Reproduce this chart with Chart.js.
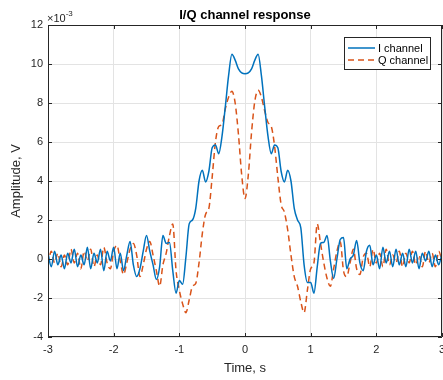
<!DOCTYPE html>
<html>
<head>
<meta charset="utf-8">
<script src="https://cdn.jsdelivr.net/npm/chart.js@4.4.1/dist/chart.umd.min.js"></script>
<style>
  html, body { margin: 0; padding: 0; background: #ffffff; }
  #wrap { width: 443px; height: 380px; }
</style>
</head>
<body>
<div id="wrap"><canvas id="c" width="443" height="380"></canvas></div>
<script>
// Sampling grid: -3 s .. 3 s every 0.05 s (121 samples)
const tStart = -3;
const tStep = 0.05;

// I channel amplitude, units of 1e-3 V
const iChannel = [
  0.3, -0.4, 0.4, -0.3, 0.2, -0.5, 0.3, -0.2, 0.5, -0.4,
  0.2, -0.3, 0.6, -0.5, 0.3, -0.2, 0.5, -0.6, 0.4, -0.1,
  0.6, -0.5, 0.3, -0.6, 0.2, 0.9, -0.3, -0.9,
  -0.5, 0.4, 1.2, 0.4, -0.3, -1.05, -0.4, 1.2, 0.8, 0.85,
  -0.6, -1.75, -1.1, -1.3, 0.1, 1.8,
  2.0, 2.6, 4.0, 4.55, 3.95, 4.5, 5.7, 5.85, 5.4, 6.3,
  7.8, 9.4, 10.5, 10.2, 9.75, 9.55, 9.5, 9.55, 9.75, 10.2,
  10.5, 9.4, 7.8, 6.3, 5.4, 5.85, 5.7, 4.5, 3.95, 4.55,
  4.0, 2.6, 2.0,
  1.6, -0.3, -1.2, -1.2, -1.75, -0.4, 0.8, 0.85, 1.2, -0.1,
  -1.0, 0.0, 1.0, 1.1, -0.5, 0.0,
  0.2, 0.95, -0.2, -0.6, 0.4, 0.7, -0.3, 0.2, -0.5, 0.6,
  -0.2, 0.4, -0.4, 0.5, -0.3, 0.3, -0.4, 0.5, -0.2, 0.4,
  -0.5, 0.3, -0.1, 0.4, -0.4, 0.2, -0.3, 0.3
];

// Q channel amplitude, units of 1e-3 V
const qChannel = [
  -0.3, 0.4, -0.2, 0.3, -0.4, 0.2, -0.3, 0.5, -0.2, 0.3,
  -0.5, 0.4, -0.1, 0.5, -0.4, 0.2, -0.3, 0.6, -0.2, -0.5,
  0.4, 0.7, -0.1, -0.8, -0.2, 0.5, 0.8, 0.2,
  -0.9, -0.3, 0.5, 0.9, 0.2, -0.6, -1.4, -0.3, 0.3, 1.2,
  1.8, -0.6, -1.6, -2.3, -2.75, -2.1,
  -1.4, -1.25, -0.2, 1.3, 2.3, 2.6, 4.2, 6.0, 6.8, 6.9,
  7.7, 8.3, 8.6, 8.0, 6.4, 4.3, 3.1, 4.3, 6.5, 8.1,
  8.65, 8.3, 7.6, 7.0, 6.8, 5.8, 4.2, 2.8, 2.4, 1.5,
  0.2, -0.9, -1.4,
  -2.2, -2.75, -1.6, -0.5, -0.2, 1.8, 0.8, -0.2, -1.0, -1.4,
  -0.5, 0.4, 0.9, -0.6, -0.9, -0.2,
  0.5, -0.5, -0.8, 0.1, 0.3, -0.4, 0.5, -0.2, 0.3, -0.4,
  0.5, -0.3, 0.2, -0.2, 0.4, -0.4, 0.3, -0.2, 0.4, -0.3,
  0.2, -0.4, 0.4, -0.2, 0.3, -0.4, 0.4, -0.1
];

const xTicks = [-3, -2, -1, 0, 1, 2, 3];
const yTicks = [-4, -2, 0, 2, 4, 6, 8, 10, 12];
const seriesNames = ['I channel', 'Q channel'];

const BLUE = '#0072BD';
const ORANGE = '#D95319';
const AXIS = '#262626';
const GRID = '#e3e3e3';
const FONT = '"Liberation Sans", Arial, Helvetica, sans-serif';

function toPoints(vals) {
  return vals.map((v, i) => ({ x: +(tStart + i * tStep).toFixed(2), y: v }));
}

// Box, inward ticks, title, exponent and legend
const decorations = {
  id: 'decorations',
  afterDraw(chart) {
    const ctx = chart.ctx;
    const a = chart.chartArea;
    const xs = chart.scales.x, ys = chart.scales.y;
    ctx.save();
    // axes box
    ctx.strokeStyle = AXIS;
    ctx.lineWidth = 1;
    ctx.beginPath();
    ctx.rect(a.left + 0.5, a.top + 0.5, a.right - a.left - 1, a.bottom - a.top - 1);
    ctx.stroke();
    // inward tick marks
    const tl = 4;
    ctx.beginPath();
    xTicks.forEach(v => {
      const px = Math.round(xs.getPixelForValue(v)) + 0.5;
      ctx.moveTo(px, a.bottom); ctx.lineTo(px, a.bottom - tl);
      ctx.moveTo(px, a.top); ctx.lineTo(px, a.top + tl);
    });
    yTicks.forEach(v => {
      const py = Math.round(ys.getPixelForValue(v)) + 0.5;
      ctx.moveTo(a.left, py); ctx.lineTo(a.left + tl, py);
      ctx.moveTo(a.right, py); ctx.lineTo(a.right - tl, py);
    });
    ctx.stroke();

    // title
    ctx.fillStyle = '#000000';
    ctx.font = 'bold 13px ' + FONT;
    ctx.textAlign = 'center';
    ctx.textBaseline = 'alphabetic';
    ctx.fillText('I/Q channel response', (a.left + a.right) / 2, 19);

    // axis exponent
    ctx.fillStyle = AXIS;
    ctx.textAlign = 'left';
    ctx.font = '11px ' + FONT;
    ctx.fillText('\u00d710', a.left - 1, 22);
    const w = ctx.measureText('\u00d710').width;
    ctx.font = '8px ' + FONT;
    ctx.fillText('-3', a.left - 1 + w, 16);

    // legend
    const lx = 344, ly = 37, lw = 86, lh = 32;
    ctx.fillStyle = '#ffffff';
    ctx.fillRect(lx, ly, lw, lh);
    ctx.strokeStyle = AXIS;
    ctx.lineWidth = 1;
    ctx.strokeRect(lx + 0.5, ly + 0.5, lw, lh);
    const rows = [
      { name: seriesNames[0], color: BLUE, dash: [] , y: 48 },
      { name: seriesNames[1], color: ORANGE, dash: [6, 4], y: 60 }
    ];
    ctx.font = '11px ' + FONT;
    ctx.textBaseline = 'middle';
    rows.forEach(r => {
      ctx.strokeStyle = r.color;
      ctx.lineWidth = 1.5;
      ctx.setLineDash(r.dash);
      ctx.beginPath();
      ctx.moveTo(348, r.y); ctx.lineTo(375, r.y);
      ctx.stroke();
      ctx.setLineDash([]);
      ctx.fillStyle = '#000000';
      ctx.fillText(r.name, 378, r.y + 0.5);
    });
    ctx.restore();
  }
};

new Chart(document.getElementById('c'), {
  type: 'line',
  data: {
    datasets: [
      {
        label: seriesNames[0],
        data: toPoints(iChannel),
        borderColor: BLUE,
        borderWidth: 1.5,
        pointRadius: 0,
        fill: false,
        cubicInterpolationMode: 'monotone'
      },
      {
        label: seriesNames[1],
        data: toPoints(qChannel),
        borderColor: ORANGE,
        borderWidth: 1.5,
        borderDash: [6, 4],
        pointRadius: 0,
        fill: false,
        cubicInterpolationMode: 'monotone'
      }
    ]
  },
  options: {
    responsive: false,
    devicePixelRatio: 1,
    animation: false,
    layout: { padding: { top: 25, right: 1, left: 0, bottom: 0 } },
    plugins: {
      legend: { display: false },
      title: { display: false },
      tooltip: { enabled: false }
    },
    scales: {
      x: {
        type: 'linear',
        min: -3, max: 3,
        afterBuildTicks(scale) { scale.ticks = xTicks.map(v => ({ value: v })); },
        afterFit(scale) { scale.height = 43; scale.paddingLeft = 0; scale.paddingRight = 0; },
        grid: { color: GRID, drawTicks: false, lineWidth: 1 },
        border: { display: false },
        ticks: { color: AXIS, font: { family: FONT, size: 11 }, padding: 6, maxRotation: 0, autoSkip: false },
        title: { display: true, text: 'Time, s', color: AXIS, font: { family: FONT, size: 13 }, padding: { top: 0, bottom: 4 } }
      },
      y: {
        type: 'linear',
        min: -4, max: 12,
        afterBuildTicks(scale) { scale.ticks = yTicks.map(v => ({ value: v })); },
        afterFit(scale) { scale.width = 48; scale.paddingTop = 0; scale.paddingBottom = 0; },
        grid: { color: GRID, drawTicks: false, lineWidth: 1 },
        border: { display: false },
        ticks: { color: AXIS, font: { family: FONT, size: 11 }, padding: 5, autoSkip: false },
        title: { display: true, text: 'Amplitude, V', color: AXIS, font: { family: FONT, size: 13 }, padding: { top: 9, bottom: 0 } }
      }
    }
  },
  plugins: [decorations]
});
</script>
</body>
</html>
